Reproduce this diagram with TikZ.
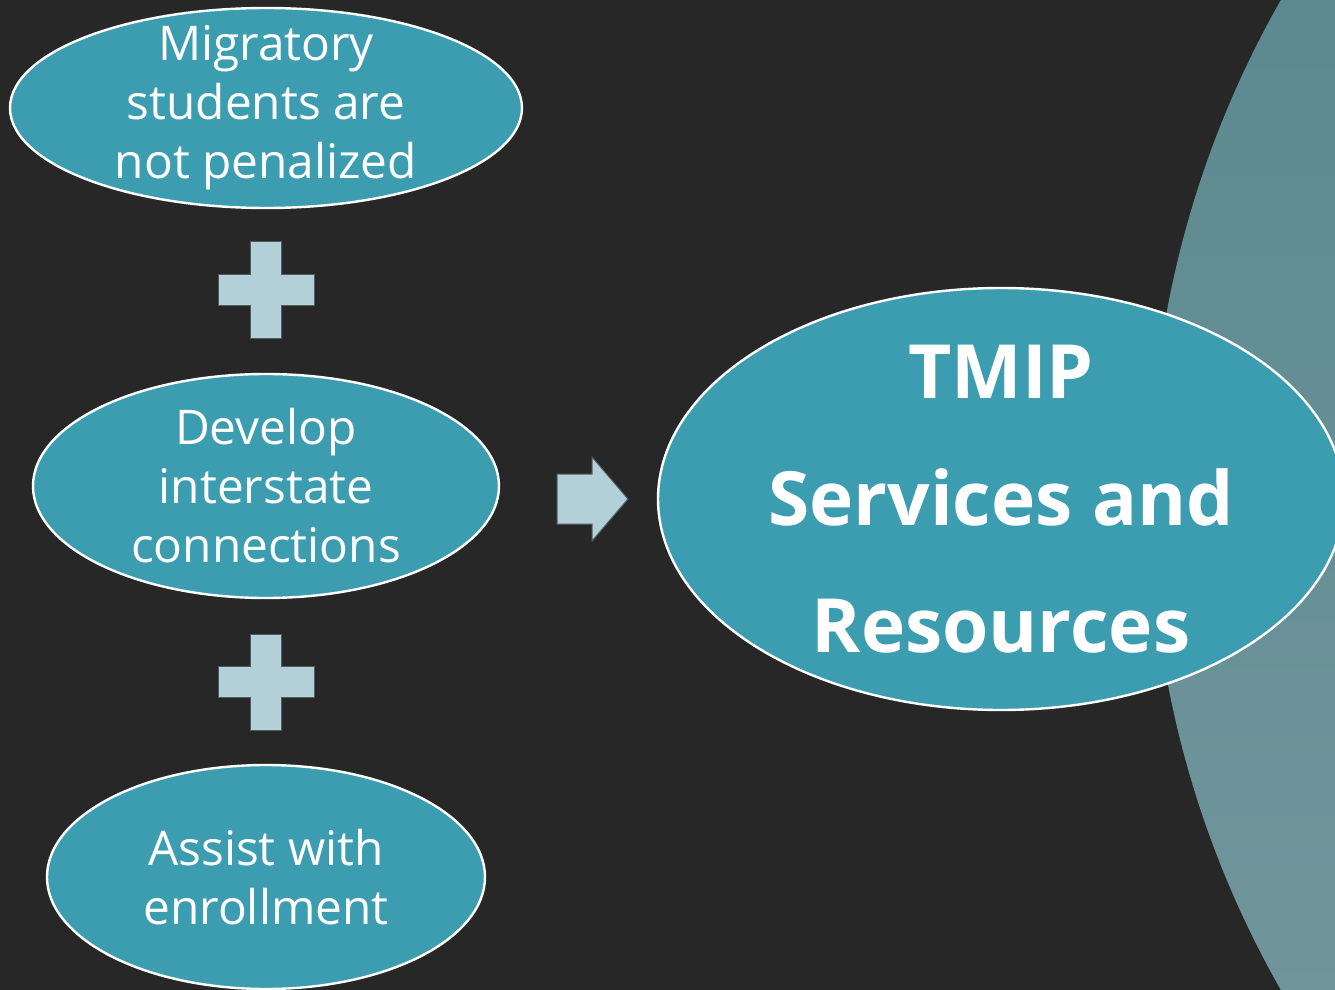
\documentclass[tikz,border=0pt]{standalone}
\usepackage{fontspec}
\setmainfont{Open Sans}
\usepackage{tikz}
\usetikzlibrary{shapes.geometric}

\definecolor{bgdark}{HTML}{272727}
\definecolor{tealfill}{HTML}{3C9DB1}
\definecolor{paleblue}{HTML}{B3CFD7}
\definecolor{slatetop}{HTML}{52838A}
\definecolor{slatebot}{HTML}{7A9CA1}

\tikzset{
  goal/.style={ellipse,draw=white,line width=1.2pt,fill=tealfill,inner sep=0pt},
  goaltext/.style={text=white,align=center,inner sep=0pt,font=\fontsize{23.9}{29.5}\selectfont},
  bigtext/.style={text=white,align=center,inner sep=0pt,font=\bfseries\fontsize{37.4}{63.5}\selectfont},
  plus/.style={fill=paleblue,draw=paleblue!45!black,line width=0.5pt}
}

\begin{document}
\begin{tikzpicture}[x=0.5pt,y=-0.5pt]

\fill[bgdark] (0,0) rectangle (1335,990);
\useasboundingbox (0,0) rectangle (1335,990);

% background disc on the right
\begin{scope}
\clip (0,0) rectangle (1335,990);
\shade[top color=slatetop,bottom color=slatebot] (2150,495) circle (1000);
\end{scope}

\node[goal,minimum width=256pt,minimum height=100pt,
  label={[goaltext]center:Migratory\\students are\\not penalized}] (penal) at (266,108) {};
\node[goal,minimum width=233pt,minimum height=112pt,
  label={[goaltext]center:Develop\\interstate\\connections}] (develop) at (266,486) {};
\node[goal,minimum width=219pt,minimum height=112pt,
  label={[goaltext]center:Assist with\\enrollment}] (enroll) at (266,877) {};

\node[goal,minimum width=343pt,minimum height=211pt,
  label={[bigtext]center:TMIP\\Services and\\Resources}] (tmip) at (1001,499) {};

\foreach \cy in {290,682}{
  \draw[plus,shift={(266,\cy)}] (-15.5,-48) -- (15.5,-48) -- (15.5,-15.5) -- (48,-15.5)
    -- (48,15.5) -- (15.5,15.5) -- (15.5,48) -- (-15.5,48) -- (-15.5,15.5)
    -- (-48,15.5) -- (-48,-15.5) -- (-15.5,-15.5) -- cycle;
}

\draw[plus] (557,474) -- (592,474) -- (592,457) -- (628,499) -- (592,541)
  -- (592,524) -- (557,524) -- cycle;

\end{tikzpicture}
\end{document}
